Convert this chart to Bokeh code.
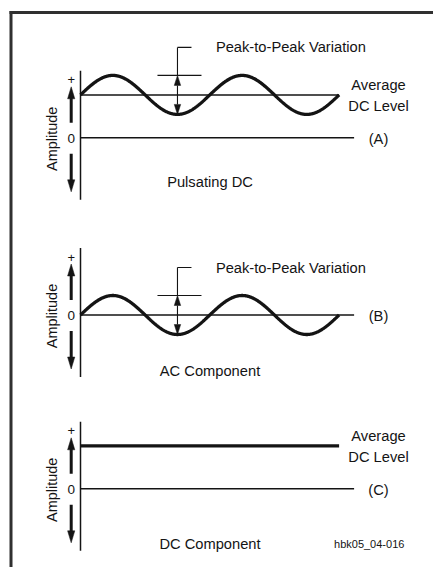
import numpy as np
from bokeh.plotting import figure
from bokeh.models import Range1d
from bokeh.core.properties import value
from bokeh.embed import file_html
from bokeh.resources import INLINE

# ---------------- data ----------------
panel_ids = ["A", "B", "C"]
panel_titles = ["Pulsating DC", "AC Component", "DC Component"]
panel_tags = ["(A)", "(B)", "(C)"]
dc_level = [2.2, 0.0, 2.2]        # average DC level, in units of the AC peak amplitude
ac_amplitude = [1.0, 1.0, 0.0]    # AC peak amplitude
n_cycles = [2, 2, 2]              # cycles drawn
show_avg_label = [True, False, True]
show_ptp = [True, True, False]
tick_labels = ["+", "0"]
y_title = "Amplitude"
ptp_label = "Peak-to-Peak Variation"
avg_label = ["Average", "DC Level"]
figure_id = "hbk05_04-016"

# ---------------- layout (screen px) ----------------
W, H = 433, 567
OX, OY = 0, 0
X0 = 80.0            # time origin (vertical axis)
PX_CYCLE = 129.3     # px per cycle
PX_UNIT = 19.5       # px per amplitude unit
ZERO_Y = [137.3, 314.5, 488.3]
TITLE_DY = [44.4, 55.5, 55.0]
INK = "#141414"
FONT = value("Liberation Sans")


def hx(px):
    return px / PX_CYCLE


def vy(px):
    return px / PX_UNIT


p = figure(width=W, height=H, output_backend="svg", toolbar_location=None,
           x_range=Range1d(OX, OX + W), y_range=Range1d(OY + H, OY),
           x_axis_location=None, y_axis_location=None, min_border=0,
           background_fill_color="white", border_fill_color="white")
p.grid.visible = False
p.outline_line_color = None

p.extra_x_ranges = {"t": Range1d((OX - X0) / PX_CYCLE, (OX + W - X0) / PX_CYCLE)}
for i, r in enumerate(panel_ids):
    z = ZERO_Y[i]
    p.extra_y_ranges[r] = Range1d((z - (OY + H)) / PX_UNIT, (z - OY) / PX_UNIT)

# frame (cut at right and bottom as in the original)
p.segment(x0=[9, 10.5], y0=[12, 10.5], x1=[OX + W, 10.5], y1=[12, OY + H],
          line_color="#303030", line_width=3)


def arrow_head(xc, tip, direction, r, length=11, half=3.5, **kw):
    base = tip - direction * vy(length)
    p.patches(xs=[[xc, xc - hx(half), xc + hx(half)]], ys=[[tip, base, base]],
              x_range_name="t", y_range_name=r, fill_color=INK, line_color=INK,
              line_width=0.5, **kw)
    return base


for i, r in enumerate(panel_ids):
    dc, ac, n = dc_level[i], ac_amplitude[i], n_cycles[i]
    kw = dict(x_range_name="t", y_range_name=r)

    # vertical axis and zero line
    p.segment(x0=[0], y0=[vy(67)], x1=[0], y1=[-vy(62)], line_color=INK, line_width=1.5, **kw)
    p.segment(x0=[0], y0=[0], x1=[n + hx(15)], y1=[0], line_color=INK, line_width=1.5, **kw)

    # average DC reference line (pulsating case)
    if dc != 0 and ac != 0:
        p.segment(x0=[0], y0=[dc], x1=[n], y1=[dc], line_color=INK, line_width=1.5, **kw)

    # waveform
    t = np.linspace(0, n, 600)
    p.line(t, dc + ac * np.sin(2 * np.pi * t), line_color=INK, line_width=3.3, **kw)

    # amplitude arrows on the left
    xa = -hx(9.3)
    b_up = arrow_head(xa, vy(51), 1, r, length=12, half=3.6)
    p.segment(x0=[xa], y0=[vy(15)], x1=[xa], y1=[b_up + vy(1)], line_color=INK, line_width=3, **kw)
    b_dn = arrow_head(xa, -vy(54), -1, r, length=12, half=3.6)
    p.segment(x0=[xa], y0=[-vy(16)], x1=[xa], y1=[b_dn - vy(1)], line_color=INK, line_width=3, **kw)

    p.text(x=[xa], y=[vy(58)], text=[tick_labels[0]], text_font=FONT, text_font_size="13px",
           text_align="center", text_baseline="middle", text_color=INK, **kw)
    p.text(x=[xa], y=[-vy(0.8)], text=[tick_labels[1]], text_font=FONT, text_font_size="13.5px",
           text_align="center", text_baseline="middle", text_color=INK, **kw)
    p.text(x=[-hx(28.3)], y=[-vy(1)], text=[y_title], angle=np.pi / 2, text_font=FONT,
           text_font_size="14.5px", text_align="center", text_baseline="middle",
           text_color=INK, **kw)

    # peak-to-peak indicator
    if show_ptp[i]:
        tx = 0.75                       # position of the first trough
        peak, trough = dc + ac, dc - ac
        top = dc + vy(47.5)
        p.segment(x0=[tx, tx, tx - hx(20)], y0=[top, top, peak],
                  x1=[tx, tx + hx(14), tx + hx(24)], y1=[peak, top, peak],
                  line_color=INK, line_width=1.1, **kw)
        bu = arrow_head(tx, peak, 1, r, length=10, half=3.2)
        bd = arrow_head(tx, trough, -1, r, length=10, half=3.2)
        p.segment(x0=[tx], y0=[bu], x1=[tx], y1=[bd], line_color=INK, line_width=1.1, **kw)
        p.text(x=[tx + hx(38.4)], y=[top], text=[ptp_label], text_font=FONT,
               text_font_size="14.7px", text_align="left", text_baseline="middle",
               text_color=INK, **kw)

    # average DC level label
    if show_avg_label[i]:
        p.text(x=[hx(298), hx(298)], y=[dc + vy(9.5), dc - vy(11)], text=avg_label,
               text_font=FONT, text_font_size="14.7px", text_align="center",
               text_baseline="middle", text_color=INK, **kw)

    # panel tag and title
    p.text(x=[hx(298)], y=[-vy(1.2)], text=[panel_tags[i]], text_font=FONT,
           text_font_size="14.7px", text_align="center", text_baseline="middle",
           text_color=INK, **kw)
    p.text(x=[hx(129.5)], y=[-vy(TITLE_DY[i])], text=[panel_titles[i]], text_font=FONT,
           text_font_size="14.7px", text_align="center", text_baseline="middle",
           text_color=INK, **kw)

# figure id
p.text(x=[hx(288.7)], y=[-vy(55)], text=[figure_id], text_font=FONT, text_font_size="11px",
       text_align="center", text_baseline="middle", text_color=INK,
       x_range_name="t", y_range_name="C")

open("out.html", "w").write(file_html(p, INLINE))
